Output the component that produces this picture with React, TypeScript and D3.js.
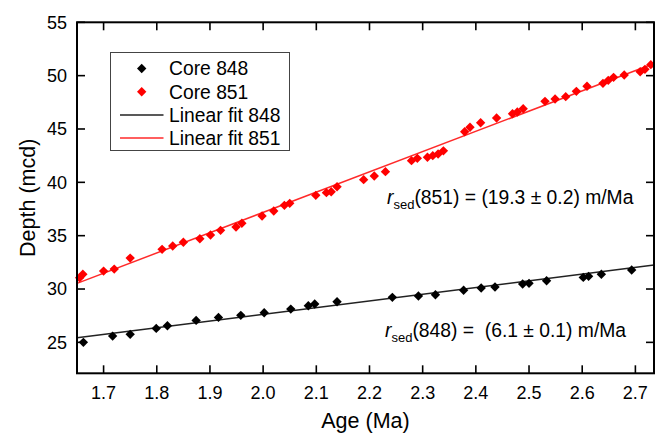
import React, { useEffect, useRef } from 'react';
import * as d3 from 'd3';

// Core 848 (age Ma, depth mcd)
const age848 = [1.662, 1.717, 1.750, 1.799, 1.820, 1.874, 1.916, 1.958, 2.002, 2.052, 2.085, 2.097, 2.139,
  2.243, 2.292, 2.324, 2.377, 2.410, 2.436, 2.488, 2.500, 2.533, 2.602, 2.612, 2.636, 2.693];
const depth848 = [25.0, 25.59, 25.75, 26.31, 26.56, 27.06, 27.34, 27.53, 27.78, 28.12, 28.43, 28.59, 28.81,
  29.22, 29.34, 29.46, 29.88, 30.09, 30.19, 30.47, 30.53, 30.78, 31.09, 31.19, 31.38, 31.78];

// Core 851
const age851 = [1.655, 1.661, 1.700, 1.720, 1.750, 1.810, 1.830, 1.850, 1.881, 1.901, 1.920, 1.949, 1.960,
  1.998, 2.020, 2.040, 2.050, 2.099, 2.119, 2.128, 2.139, 2.189, 2.209, 2.230, 2.279, 2.290, 2.309, 2.319,
  2.329, 2.339, 2.379, 2.389, 2.409, 2.439, 2.469, 2.478, 2.489, 2.530, 2.549, 2.569, 2.589, 2.609, 2.639,
  2.649, 2.659, 2.679, 2.709, 2.718, 2.729];
const depth851 = [31.05, 31.38, 31.68, 31.87, 32.90, 33.72, 34.03, 34.38, 34.71, 35.06, 35.50, 35.81, 36.16,
  36.84, 37.31, 37.84, 38.03, 38.78, 39.03, 39.12, 39.59, 40.25, 40.59, 41.00, 42.03, 42.25, 42.35, 42.50,
  42.66, 42.95, 44.74, 45.16, 45.59, 46.03, 46.43, 46.59, 46.90, 47.59, 47.81, 48.03, 48.53, 49.00, 49.28,
  49.56, 49.84, 50.06, 50.37, 50.59, 51.03];

// linear fits: depth = intercept + slope * age
const fit848 = { intercept: 15.07, slope: 6.28 };
const fit851 = { intercept: -0.82, slope: 19.0 };

const xTicks = [1.7, 1.8, 1.9, 2.0, 2.1, 2.2, 2.3, 2.4, 2.5, 2.6, 2.7];
const yTicks = [25, 30, 35, 40, 45, 50, 55];
const legendLabels = ['Core 848', 'Core 851', 'Linear fit 848', 'Linear fit 851'];

const FONT = '"Liberation Sans", Arial, sans-serif';

const App = () => {
  const svgRef = useRef<SVGSVGElement>(null);

  useEffect(() => {
    const svg = d3.select(svgRef.current);
    svg.selectAll('*').remove();

    const width = 655;
    const height = 435;
    const margin = { top: 22.3, right: 1, bottom: 61.7, left: 77 };

    const x = d3.scaleLinear().domain([1.65, 2.735]).range([margin.left, width - margin.right]);
    const y = d3.scaleLinear().domain([22.1, 55]).range([height - margin.bottom, margin.top]);

    const g = svg.append('g').attr('font-family', FONT);

    const diamond = d3.symbol().type(d3.symbolSquare).size(44)();

    const drawFit = (fit: { intercept: number; slope: number }, color: string) => {
      const xs = x.domain();
      const line = d3.line<number>().x(d => x(d)).y(d => y(fit.intercept + fit.slope * d));
      g.append('path').attr('d', line(xs)).attr('fill', 'none').attr('stroke', color).attr('stroke-width', 1.5);
    };

    drawFit(fit848, '#222');
    drawFit(fit851, '#ff2a2a');

    const drawPoints = (ages: number[], depths: number[], color: string) => {
      g.append('g').selectAll('path')
        .data(ages)
        .enter()
        .append('path')
        .attr('d', diamond)
        .attr('transform', (d, i) => `translate(${x(d)},${y(depths[i])}) rotate(45)`)
        .attr('fill', color);
    };

    drawPoints(age848, depth848, '#000');
    drawPoints(age851, depth851, '#ff0000');

    // frame
    const [x0, x1] = x.range();
    const [y0, y1] = y.range();
    g.append('rect')
      .attr('x', x0).attr('y', y1).attr('width', x1 - x0).attr('height', y0 - y1)
      .attr('fill', 'none').attr('stroke', '#000').attr('stroke-width', 2);

    // ticks inward on all sides
    const tl = 8;
    const axisTickAttrs = (sel: any) => sel.attr('stroke', '#000').attr('stroke-width', 1.6);
    xTicks.forEach(t => {
      g.append('line').attr('x1', x(t)).attr('x2', x(t)).attr('y1', y0).attr('y2', y0 - tl).call(axisTickAttrs);
      g.append('line').attr('x1', x(t)).attr('x2', x(t)).attr('y1', y1).attr('y2', y1 + tl).call(axisTickAttrs);
      g.append('text').attr('x', x(t)).attr('y', y0 + 26).attr('text-anchor', 'middle')
        .attr('font-size', 18).text(t.toFixed(1));
    });
    yTicks.forEach(t => {
      g.append('line').attr('x1', x0).attr('x2', x0 + tl).attr('y1', y(t)).attr('y2', y(t)).call(axisTickAttrs);
      g.append('line').attr('x1', x1).attr('x2', x1 - tl).attr('y1', y(t)).attr('y2', y(t)).call(axisTickAttrs);
      g.append('text').attr('x', x0 - 10).attr('y', y(t)).attr('dy', '0.36em').attr('text-anchor', 'end')
        .attr('font-size', 18).text(t);
    });

    // axis titles
    g.append('text').attr('x', (x0 + x1) / 2).attr('y', 428).attr('text-anchor', 'middle')
      .attr('font-size', 21.5).text('Age (Ma)');
    g.append('text').attr('transform', `translate(35,${(y0 + y1) / 2}) rotate(-90)`).attr('text-anchor', 'middle')
      .attr('font-size', 21.5).text('Depth (mcd)');

    // legend
    const lg = g.append('g');
    lg.append('rect').attr('x', 110.5).attr('y', 52.5).attr('width', 179).attr('height', 98)
      .attr('fill', '#fff').attr('stroke', '#444').attr('stroke-width', 1);
    const rowY = (i: number) => 68.5 + i * 23.2;
    legendLabels.forEach((lab, i) => {
      if (i < 2) {
        lg.append('path').attr('d', diamond)
          .attr('transform', `translate(141.7,${rowY(i)}) rotate(45)`)
          .attr('fill', i === 0 ? '#000' : '#ff0000');
      } else {
        lg.append('line').attr('x1', 120).attr('x2', 163.5).attr('y1', rowY(i)).attr('y2', rowY(i))
          .attr('stroke', i === 2 ? '#222' : '#ff2a2a').attr('stroke-width', 1.5);
      }
      lg.append('text').attr('x', 169).attr('y', rowY(i)).attr('dy', '0.36em')
        .attr('font-size', 19.3).text(lab);
    });

    // annotations
    const annot = (ax: number, ay: number, core: string, rest: string) => {
      const t = g.append('text').attr('x', ax).attr('y', ay).attr('font-size', 19.3).style('white-space', 'pre');
      t.append('tspan').attr('font-style', 'italic').text('r');
      t.append('tspan').attr('font-size', 13).attr('dy', 5).text('sed');
      t.append('tspan').attr('dy', -5).text(`(${core}) = ${rest}`);
    };
    annot(387, 204, '851', '(19.3 \u00b1 0.2) m/Ma');
    annot(385, 337, '848', ' (6.1 \u00b1 0.1) m/Ma');
  }, []);

  return (
    <svg ref={svgRef} width={655} height={435}
      style={{ position: 'absolute', left: 0, top: 0, background: '#fff' }} />
  );
};

export default App;
